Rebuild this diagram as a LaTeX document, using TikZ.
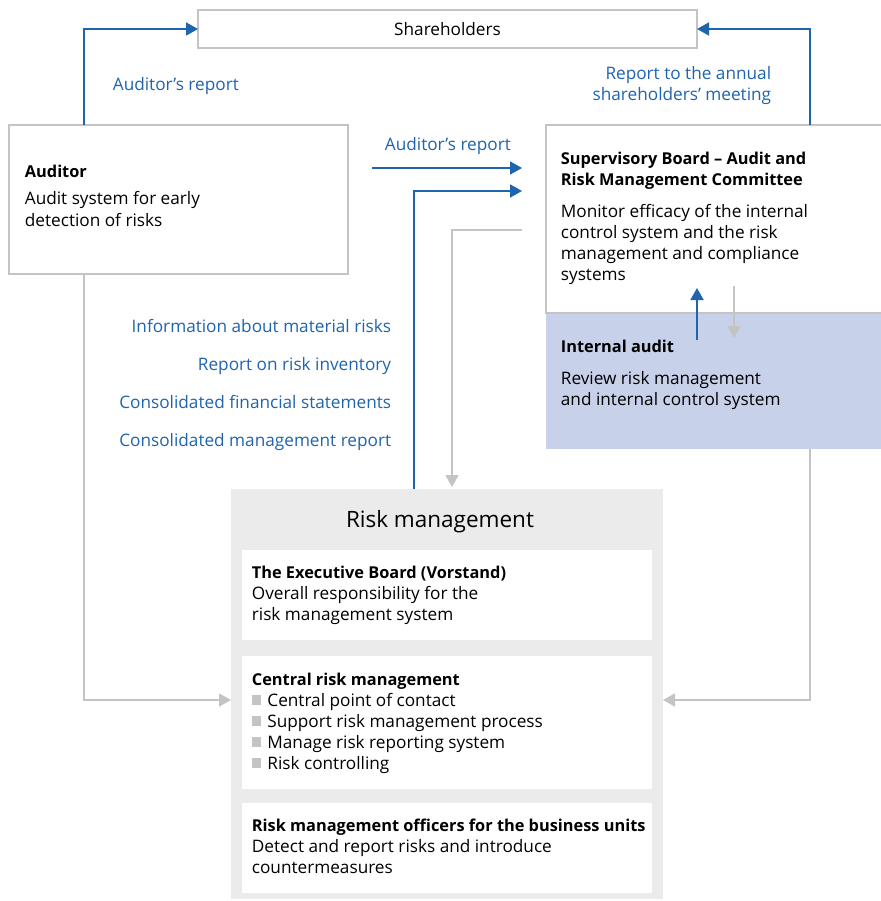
\documentclass[tikz,border=0pt]{standalone}
\usepackage{fontspec}
\setmainfont{Open Sans}[BoldFeatures={Scale=0.95}]
\usepackage{xcolor}
\definecolor{colorFlow}{HTML}{1F64AE}
\definecolor{colorLine}{HTML}{C4C4C4}
\definecolor{colorAudit}{HTML}{C7D1EA}
\definecolor{colorRisk}{HTML}{ECEBEC}
\colorlet{colorBullet}{colorLine}
\usepackage{tikz}
\usetikzlibrary{arrows.meta, positioning}
\tikzset{
  panel/.style={draw=colorLine, line width=1.5pt, fill=white, inner sep=0pt, outer sep=0pt, anchor=north west},
  innerbox/.style={fill=white, inner sep=0pt, outer sep=0pt, minimum width=410pt},
  body/.style={align=left, anchor=base west, inner sep=0pt, font=\fontsize{17.2}{21}\selectfont},
  flowlabel/.style={text=colorFlow, inner sep=0pt, font=\fontsize{17.2}{21}\selectfont}
}
\newcommand{\sqbullet}{{\color{colorBullet}\rule[1.5pt]{9.5pt}{9.5pt}}\hspace{6pt}}

\begin{document}
\begin{tikzpicture}[>={Triangle[length=12pt,width=13pt]}, x=1pt, y=-1pt, line width=1.8pt]
\useasboundingbox (0,0) rectangle (880,901);
\node[panel, minimum width=499pt, minimum height=38pt, font=\fontsize{17.2}{21}\selectfont] (share) at (198,10) {Shareholders};
\node[panel, minimum width=339pt, minimum height=149pt] (auditor) at (9,125) {};
\node[panel, fill=colorAudit, draw=none, minimum width=340pt, minimum height=136pt] (ia) at (546,313) {};
\node[panel, minimum width=340pt, minimum height=188pt] (sup) at (546,125) {};
\node[panel, fill=colorRisk, draw=none, minimum width=432pt, minimum height=410pt] (risk) at (231,489) {};
\node[innerbox, minimum height=90pt, anchor=north west] (exec) at (242,550) {};
\node[innerbox, minimum height=133pt, below=16pt of exec] (central) {};
\node[innerbox, minimum height=90pt, below=14pt of central] (officers) {};

\node[body] (auditortxt) at ([xshift=15pt,yshift=-101pt]auditor.north west) {\textbf{Auditor}\\[6pt]Audit system for early\\detection of risks};
\node[body] (suptxt) at ([xshift=14pt,yshift=-155pt]sup.north west) {\textbf{Supervisory Board – Audit and}\\\textbf{Risk Management Committee}\\[11pt]Monitor efficacy of the internal\\control system and the risk\\management and compliance\\systems};
\node[body] (iatxt) at ([xshift=14pt,yshift=-92pt]ia.north west) {\textbf{Internal audit}\\[11pt]Review risk management\\and internal control system};
\node[font=\fontsize{22.5}{26}\selectfont, anchor=base, inner sep=0pt] (risktitle) at ([xshift=-7pt,yshift=-38pt]risk.north) {Risk management};
\node[body] (exectxt) at ([xshift=9pt,yshift=-70pt]exec.north west) {\textbf{The Executive Board (Vorstand)}\\Overall responsibility for the\\risk management system};
\node[body] (centraltxt) at ([xshift=9pt,yshift=-113pt]central.north west) {\textbf{Central risk management}\\\sqbullet Central point of contact\\\sqbullet Support risk management process\\\sqbullet Manage risk reporting system\\\sqbullet Risk controlling};
\node[body] (officerstxt) at ([xshift=9pt,yshift=-70pt]officers.north west) {\textbf{Risk management officers for the business units}\\Detect and report risks and introduce\\countermeasures};

\node[flowlabel, anchor=base west] (arepshare) at (112,91) {Auditor’s report};
\node[flowlabel, anchor=base west] (arepsup) at (384,151) {Auditor’s report};
\node[flowlabel, align=right, anchor=base east] (agm) at (772,101) {Report to the annual\\shareholders’ meeting};
\node[flowlabel, align=right, anchor=base east] (riskreports) at (392,446) {Information about material risks\\[17pt]Report on risk inventory\\[17pt]Consolidated financial statements\\[17pt]Consolidated management report};

\coordinate (arepstart) at (372,168);
\draw [->, colorFlow] ([xshift=75pt]auditor.north west) |- (share.west);
\draw [->, colorFlow] ([xshift=264pt]sup.north west) |- (share.east);
\draw [->, colorFlow, shorten >=24pt] (arepstart) -- (arepstart -| sup.west);
\draw [->, colorFlow, shorten >=24pt] ([xshift=183pt]risk.north west) |- ([yshift=-66pt]sup.north west);
\draw [->, colorLine, shorten >=2pt] ([xshift=-24pt,yshift=-105pt]sup.north west) -| ([xshift=221pt]risk.north west);
\draw [->, colorFlow] ([xshift=151pt,yshift=-27pt]ia.north west) -- ([xshift=151pt,yshift=25pt]ia.north west);
\draw [->, colorLine] ([xshift=188pt,yshift=27pt]ia.north west) -- ([xshift=188pt,yshift=-25pt]ia.north west);
\draw [->, colorLine] ([xshift=75pt]auditor.south west) |- ([yshift=-6pt]risk.west);
\draw [->, colorLine] ([xshift=264pt]ia.south west) |- ([yshift=-6pt]risk.east);
\end{tikzpicture}
\end{document}
